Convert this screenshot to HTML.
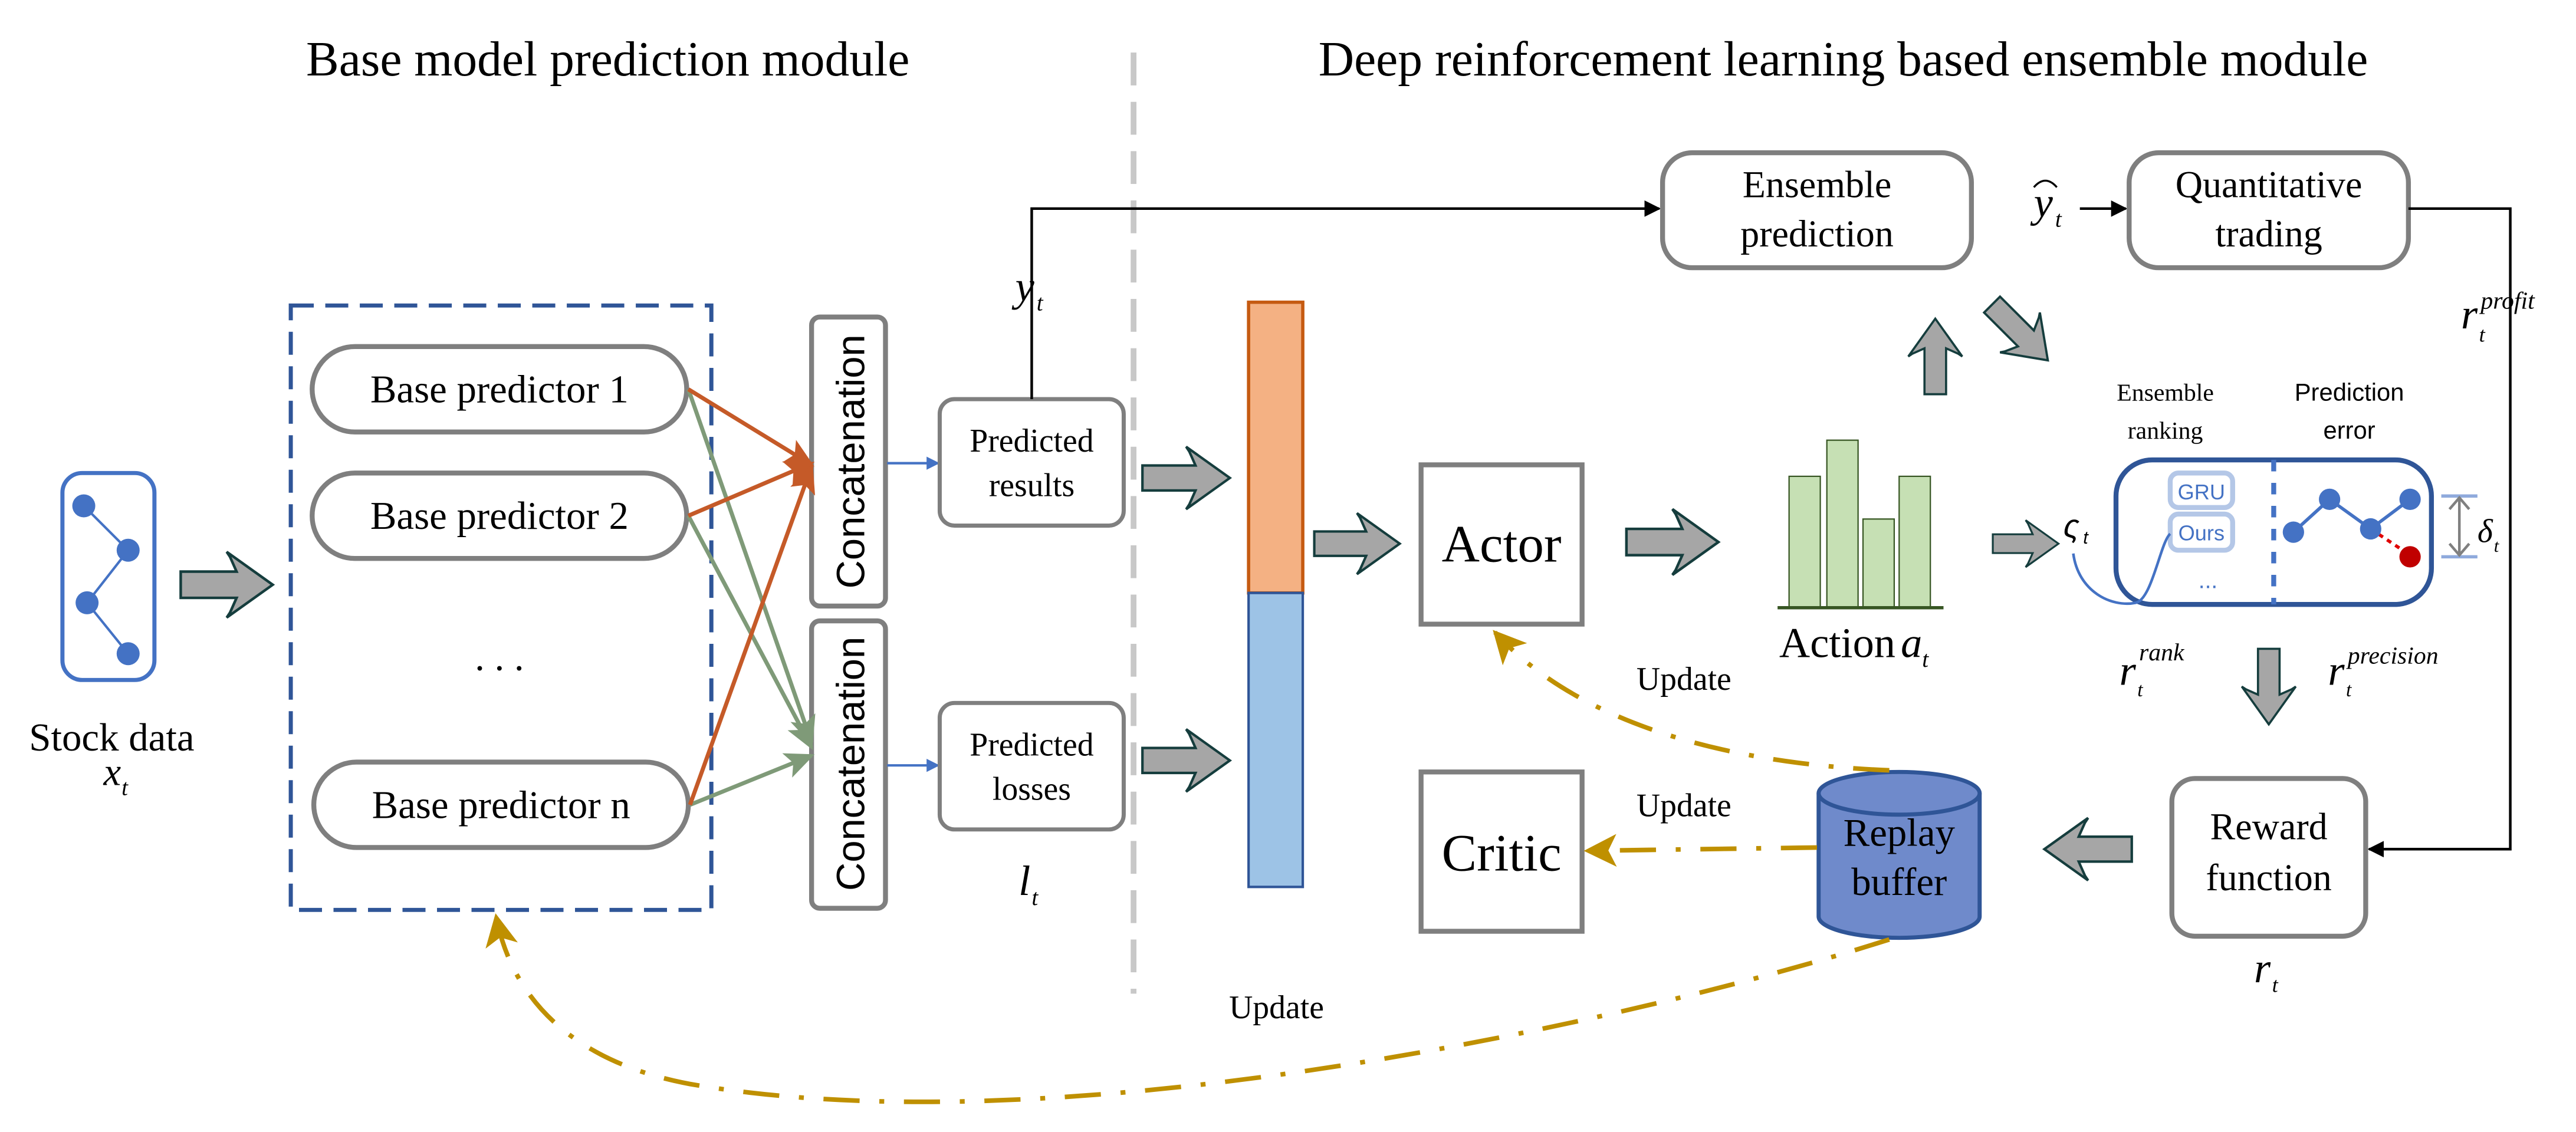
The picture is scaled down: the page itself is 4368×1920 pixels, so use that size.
<!DOCTYPE html>
<html><head><meta charset="utf-8"><style>
html,body{margin:0;padding:0;background:#fff;}
svg{display:block;}
text{font-family:"Liberation Serif",serif;fill:#000;}
.sans{font-family:"Liberation Sans","DejaVu Sans",sans-serif;}
</style></head><body>
<svg width="4368" height="1920" viewBox="0 0 1568 689.2" xmlns="http://www.w3.org/2000/svg">
<defs>
<symbol id="ga" viewBox="0 0 56 40" overflow="visible">
<path d="M0,12 L34,12 L30,3 L28,0 L56,20 L28,40 L30,37 L34,28 L0,28 Z" fill="#A6A6A6" stroke="#153D3D" stroke-width="1.6" stroke-linejoin="miter"/>
</symbol>
<marker id="mk" markerWidth="10" markerHeight="10" refX="9" refY="5" orient="auto" markerUnits="userSpaceOnUse"><path d="M0,0 L10,5 L0,10 Z" fill="#000"/></marker>
<marker id="mo" markerWidth="18" markerHeight="16" refX="16" refY="8" orient="auto" markerUnits="userSpaceOnUse"><path d="M0,0 L18,8 L0,16 L4,8 Z" fill="#C55A28"/></marker>
<marker id="mg" markerWidth="18" markerHeight="16" refX="16" refY="8" orient="auto" markerUnits="userSpaceOnUse"><path d="M0,0 L18,8 L0,16 L4,8 Z" fill="#7F9A78"/></marker>
<marker id="mb" markerWidth="8" markerHeight="8" refX="7" refY="4" orient="auto" markerUnits="userSpaceOnUse"><path d="M0,0 L8,4 L0,8 Z" fill="#4472C4"/></marker>
<marker id="my" markerWidth="22" markerHeight="20" refX="18" refY="10" orient="auto" markerUnits="userSpaceOnUse"><path d="M0,0 L20,10 L0,20 L5,10 Z" fill="#BF9000"/></marker>
</defs>

<!-- titles -->
<text x="370" y="46" font-size="30" text-anchor="middle">Base model prediction module</text>
<text x="1122" y="46" font-size="30" text-anchor="middle">Deep reinforcement learning based ensemble module</text>
<line x1="690" y1="32" x2="690" y2="605" stroke="#C8C8C8" stroke-width="3.5" stroke-dasharray="20,10"/>

<!-- stock data -->
<rect x="38" y="288" width="56" height="126" rx="12" fill="#fff" stroke="#4472C4" stroke-width="2.5"/>
<polyline points="51,308 78,335 53,367 78,398" fill="none" stroke="#4472C4" stroke-width="1.5"/>
<circle cx="51" cy="308" r="7" fill="#4472C4"/><circle cx="78" cy="335" r="7" fill="#4472C4"/>
<circle cx="53" cy="367" r="7" fill="#4472C4"/><circle cx="78" cy="398" r="7" fill="#4472C4"/>
<text x="68" y="457" font-size="24" text-anchor="middle">Stock data</text>
<text x="63" y="478" font-size="24" font-style="italic">x</text><text x="74" y="484" font-size="14" font-style="italic">t</text>
<use href="#ga" x="110" y="336" width="56" height="40"/>

<!-- base predictors -->
<rect x="177" y="186" width="256" height="368" fill="none" stroke="#2F5597" stroke-width="2.5" stroke-dasharray="14,7"/>
<rect x="190" y="211" width="228" height="52" rx="26" fill="#fff" stroke="#7F7F7F" stroke-width="3"/>
<text x="304" y="245" font-size="24" text-anchor="middle">Base predictor 1</text>
<rect x="190" y="288" width="228" height="52" rx="26" fill="#fff" stroke="#7F7F7F" stroke-width="3"/>
<text x="304" y="322" font-size="24" text-anchor="middle">Base predictor 2</text>
<text x="304" y="408" font-size="24" text-anchor="middle">. . .</text>
<rect x="191" y="464" width="228" height="52" rx="26" fill="#fff" stroke="#7F7F7F" stroke-width="3"/>
<text x="305" y="498" font-size="24" text-anchor="middle">Base predictor n</text>

<!-- concatenation -->
<rect x="494" y="193" width="45" height="176" rx="5" fill="#fff" stroke="#7F7F7F" stroke-width="3"/>
<text class="sans" transform="translate(526,281) rotate(-90)" font-size="24" text-anchor="middle">Concatenation</text>
<rect x="494" y="378" width="45" height="175" rx="5" fill="#fff" stroke="#7F7F7F" stroke-width="3"/>
<text class="sans" transform="translate(526,465) rotate(-90)" font-size="24" text-anchor="middle">Concatenation</text>

<g stroke-width="2.5" fill="none">
<line x1="419" y1="237" x2="494" y2="452" stroke="#7F9A78" marker-end="url(#mg)"/>
<line x1="419" y1="314" x2="494" y2="455" stroke="#7F9A78" marker-end="url(#mg)"/>
<line x1="420" y1="490" x2="494" y2="460" stroke="#7F9A78" marker-end="url(#mg)"/>
<line x1="419" y1="237" x2="494" y2="283" stroke="#C55A28" marker-end="url(#mo)"/>
<line x1="419" y1="314" x2="494" y2="282" stroke="#C55A28" marker-end="url(#mo)"/>
<line x1="420" y1="490" x2="494" y2="284" stroke="#C55A28" marker-end="url(#mo)"/>
<line x1="540" y1="282" x2="571" y2="282" stroke="#4472C4" stroke-width="1.5" marker-end="url(#mb)"/>
<line x1="540" y1="466" x2="571" y2="466" stroke="#4472C4" stroke-width="1.5" marker-end="url(#mb)"/>
</g>

<rect x="572" y="243" width="112" height="77" rx="9" fill="#fff" stroke="#7F7F7F" stroke-width="2.5"/>
<text x="628" y="275" font-size="20" text-anchor="middle">Predicted</text>
<text x="628" y="302" font-size="20" text-anchor="middle">results</text>
<rect x="572" y="428" width="112" height="77" rx="9" fill="#fff" stroke="#7F7F7F" stroke-width="2.5"/>
<text x="628" y="460" font-size="20" text-anchor="middle">Predicted</text>
<text x="628" y="487" font-size="20" text-anchor="middle">losses</text>
<text x="618" y="183" font-size="26" font-style="italic">y</text><text x="631" y="189" font-size="14" font-style="italic">t</text>
<text x="620" y="545" font-size="26" font-style="italic">l</text><text x="628" y="551" font-size="14" font-style="italic">t</text>
<polyline points="628,243 628,127 1010,127" fill="none" stroke="#000" stroke-width="1.6" marker-end="url(#mk)"/>

<use href="#ga" x="695" y="272" width="54" height="38"/>
<use href="#ga" x="695" y="444" width="54" height="38"/>

<!-- stacked bar -->
<rect x="760" y="184" width="33" height="177" fill="#F4B183" stroke="#C55A11" stroke-width="2"/>
<rect x="760" y="361" width="33" height="179" fill="#9DC3E6" stroke="#2F5597" stroke-width="1.5"/>
<use href="#ga" x="800" y="312" width="52" height="38"/>

<!-- actor critic -->
<rect x="865" y="283" width="98" height="97" fill="#fff" stroke="#7F7F7F" stroke-width="3"/>
<text x="914" y="342" font-size="32" text-anchor="middle">Actor</text>
<rect x="865" y="470" width="98" height="97" fill="#fff" stroke="#7F7F7F" stroke-width="3"/>
<text x="914" y="530" font-size="32" text-anchor="middle">Critic</text>
<use href="#ga" x="990" y="310" width="56" height="40"/>

<!-- bar chart -->
<g fill="#C6E0B4" stroke="#375623" stroke-width="0.8">
<rect x="1089" y="290" width="19" height="80"/><rect x="1112" y="268" width="19" height="102"/>
<rect x="1134" y="316" width="19" height="54"/><rect x="1156" y="290" width="19" height="80"/>
</g>
<line x1="1082" y1="370" x2="1183" y2="370" stroke="#375623" stroke-width="2"/>
<text x="1083" y="400" font-size="26">Action</text>
<text x="1157" y="400" font-size="26" font-style="italic">a</text><text x="1170" y="406" font-size="14" font-style="italic">t</text>
<use href="#ga" x="1213" y="312" width="40" height="38"/>

<!-- up arrow -->
<use href="#ga" transform="translate(1159,240) rotate(-90)" width="46" height="38"/>
<!-- diag arrow -->
<use href="#ga" transform="translate(1226,172) rotate(45)" width="48" height="38"/>

<!-- ensemble prediction -->
<rect x="1012" y="93" width="188" height="70" rx="18" fill="#fff" stroke="#7F7F7F" stroke-width="3"/>
<text x="1106" y="120" font-size="23" text-anchor="middle">Ensemble</text>
<text x="1106" y="150" font-size="23" text-anchor="middle">prediction</text>
<text x="1238" y="132" font-size="26" font-style="italic">y</text><text x="1251" y="138" font-size="14" font-style="italic">t</text>
<path d="M1238,114 Q1245,106 1252,114" fill="none" stroke="#000" stroke-width="1.2"/>
<line x1="1266" y1="127" x2="1294" y2="127" stroke="#000" stroke-width="1.6" marker-end="url(#mk)"/>
<rect x="1296" y="93" width="170" height="70" rx="18" fill="#fff" stroke="#7F7F7F" stroke-width="3"/>
<text x="1381" y="120" font-size="23" text-anchor="middle">Quantitative</text>
<text x="1381" y="150" font-size="23" text-anchor="middle">trading</text>
<polyline points="1466,127 1528,127 1528,517 1442,517" fill="none" stroke="#000" stroke-width="1.6" marker-end="url(#mk)"/>
<text x="1498" y="200" font-size="26" font-style="italic">r</text><text x="1509" y="208" font-size="13" font-style="italic">t</text>
<text x="1510" y="188" font-size="15" font-style="italic">profit</text>

<!-- ranking box -->
<text x="1318" y="244" font-size="15" text-anchor="middle">Ensemble</text>
<text x="1318" y="267" font-size="15" text-anchor="middle">ranking</text>
<text class="sans" x="1430" y="244" font-size="15" text-anchor="middle">Prediction</text>
<text class="sans" x="1430" y="267" font-size="15" text-anchor="middle">error</text>
<rect x="1288" y="280" width="192" height="88" rx="22" fill="#fff" stroke="#2F5597" stroke-width="3"/>
<line x1="1384" y1="280" x2="1384" y2="368" stroke="#4472C4" stroke-width="3" stroke-dasharray="7,7"/>
<rect x="1321" y="288" width="38" height="21" rx="5" fill="#fff" stroke="#B4C7E7" stroke-width="3"/>
<text class="sans" x="1340" y="304" font-size="13" fill="#4472C4" text-anchor="middle" style="fill:#4472C4">GRU</text>
<rect x="1321" y="313" width="38" height="22" rx="5" fill="#fff" stroke="#B4C7E7" stroke-width="3"/>
<text class="sans" x="1340" y="329" font-size="13" text-anchor="middle" style="fill:#4472C4">Ours</text>
<text class="sans" x="1344" y="358" font-size="14" text-anchor="middle" style="fill:#4472C4">...</text>
<text class="sans" x="1256" y="327" font-size="20" font-style="italic">ς</text><text class="sans" x="1268" y="331" font-size="11" font-style="italic">t</text>
<path d="M1262,337 C1265,360 1285,370 1300,367 C1310,365 1315,330 1321,325" fill="none" stroke="#4472C4" stroke-width="1.6"/>
<polyline points="1396,324 1418,304 1443,322 1467,304" fill="none" stroke="#4472C4" stroke-width="2"/>
<line x1="1443" y1="322" x2="1467" y2="338" stroke="#E00000" stroke-width="2" stroke-dasharray="3,3"/>
<circle cx="1396" cy="324" r="6.5" fill="#4472C4"/><circle cx="1418" cy="304" r="6.5" fill="#4472C4"/>
<circle cx="1443" cy="322" r="6.5" fill="#4472C4"/><circle cx="1467" cy="304" r="6.5" fill="#4472C4"/>
<circle cx="1467" cy="339" r="6.5" fill="#C00000"/>
<line x1="1486" y1="302" x2="1508" y2="302" stroke="#8FAADC" stroke-width="2"/>
<line x1="1486" y1="339" x2="1508" y2="339" stroke="#8FAADC" stroke-width="2"/>
<path d="M1497,303 L1497,338 M1491,310 L1497,303 L1503,310 M1491,331 L1497,338 L1503,331" fill="none" stroke="#808080" stroke-width="1.6"/>
<text x="1508" y="330" font-size="20" font-style="italic">δ</text><text x="1518" y="336" font-size="11" font-style="italic">t</text>
<text x="1290" y="417" font-size="26" font-style="italic">r</text><text x="1301" y="424" font-size="12" font-style="italic">t</text>
<text x="1302" y="402" font-size="15" font-style="italic">rank</text>
<text x="1417" y="417" font-size="26" font-style="italic">r</text><text x="1428" y="424" font-size="12" font-style="italic">t</text>
<text x="1429" y="404" font-size="15" font-style="italic">precision</text>
<use href="#ga" transform="translate(1362,395) rotate(90) translate(0,-38)" width="46" height="38"/>

<!-- reward -->
<rect x="1322" y="474" width="118" height="96" rx="14" fill="#fff" stroke="#7F7F7F" stroke-width="3"/>
<text x="1381" y="511" font-size="23" text-anchor="middle">Reward</text>
<text x="1381" y="542" font-size="23" text-anchor="middle">function</text>
<text x="1372" y="598" font-size="26" font-style="italic">r</text><text x="1383" y="604" font-size="13" font-style="italic">t</text>
<use href="#ga" transform="translate(1300,536) rotate(180)" width="58" height="38"/>

<!-- replay buffer -->
<path d="M1107,483 L1107,558 A49,13 0 0 0 1205,558 L1205,483" fill="#6F8ACB" stroke="#2F5597" stroke-width="2.5"/>
<ellipse cx="1156" cy="483" rx="49" ry="13" fill="#6F8ACB" stroke="#2F5597" stroke-width="2.5"/>
<text x="1156" y="515" font-size="24" text-anchor="middle">Replay</text>
<text x="1156" y="545" font-size="24" text-anchor="middle">buffer</text>

<!-- update lines -->
<g fill="none" stroke="#BF9000" stroke-width="2.8" stroke-dasharray="22,12,3,12">
<path d="M1150,469 C1050,465 960,440 910,385" marker-end="url(#my)"/>
<path d="M1106,516 L966,518" marker-end="url(#my)"/>
<path d="M1150,572 C1000,620 650,700 420,660 C340,645 310,600 302,558" marker-end="url(#my)"/>
</g>
<text x="1025" y="420" font-size="20" text-anchor="middle">Update</text>
<text x="1025" y="497" font-size="20" text-anchor="middle">Update</text>
<text x="777" y="620" font-size="20" text-anchor="middle">Update</text>
</svg>
</body></html>
